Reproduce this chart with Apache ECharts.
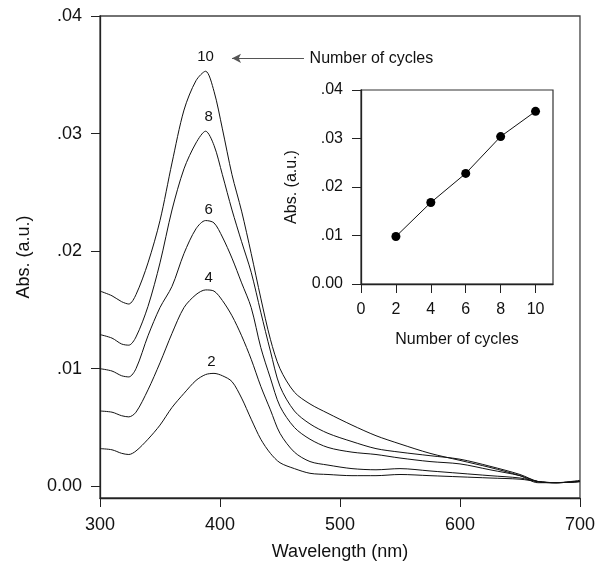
<!DOCTYPE html>
<html>
<head>
<meta charset="utf-8">
<script src="https://cdn.jsdelivr.net/npm/echarts@6/dist/echarts.min.js"></script>
<style>
  html, body { margin: 0; padding: 0; background: #fff; }
  #chart { width: 598px; height: 569px; }
</style>
</head>
<body>
<div id="chart"></div>
<script>
// spectra
const wavelength = [300, 310, 318, 324, 330, 340, 350, 360, 370, 380, 388, 395, 402, 410, 418, 426, 434, 442, 450, 462, 475, 490, 510, 530, 550, 575, 600, 625, 650, 665, 680, 700]
const abs2  = [0.0032, 0.0031, 0.0028, 0.0027, 0.0030, 0.0040, 0.0052, 0.0067, 0.0079, 0.0090, 0.0095, 0.0096, 0.0094, 0.0089, 0.0075, 0.0057, 0.0040, 0.0028, 0.0020, 0.0015, 0.0011, 0.0010, 0.0009, 0.0009, 0.0010, 0.0009, 0.0008, 0.0007, 0.0006, 0.0004, 0.0003, 0.0004]
const abs4  = [0.0064, 0.0063, 0.0060, 0.0059, 0.0063, 0.0082, 0.0105, 0.0130, 0.0152, 0.0163, 0.0167, 0.0166, 0.0158, 0.0145, 0.0128, 0.0108, 0.0085, 0.0065, 0.0045, 0.0029, 0.0021, 0.0018, 0.0015, 0.0014, 0.0015, 0.0013, 0.0011, 0.0009, 0.0007, 0.0004, 0.0003, 0.0004]
const abs6  = [0.0100, 0.0098, 0.0094, 0.0093, 0.0100, 0.0128, 0.0152, 0.0170, 0.0198, 0.0219, 0.0226, 0.0224, 0.0212, 0.0194, 0.0173, 0.0152, 0.0118, 0.0092, 0.0068, 0.0050, 0.0040, 0.0033, 0.0029, 0.0027, 0.0024, 0.0021, 0.0019, 0.0014, 0.0009, 0.0004, 0.0003, 0.0004]
const abs8  = [0.0129, 0.0126, 0.0121, 0.0120, 0.0127, 0.0153, 0.0190, 0.0235, 0.0270, 0.0292, 0.0302, 0.0290, 0.0265, 0.0235, 0.0208, 0.0182, 0.0148, 0.0115, 0.0085, 0.0064, 0.0053, 0.0045, 0.0038, 0.0032, 0.0029, 0.0026, 0.0023, 0.0017, 0.0010, 0.0004, 0.0003, 0.0004]
const abs10 = [0.0166, 0.0162, 0.0157, 0.0155, 0.0163, 0.0190, 0.0226, 0.0275, 0.0320, 0.0345, 0.0353, 0.0336, 0.0304, 0.0265, 0.0234, 0.0198, 0.0160, 0.0125, 0.0100, 0.0080, 0.0070, 0.0062, 0.0052, 0.0043, 0.0036, 0.0028, 0.0022, 0.0016, 0.0009, 0.0003, 0.0003, 0.0005]

// inset: absorbance at the peak vs number of cycles
const cycles = [2, 4, 6, 8, 10]
const peakAbs = [0.0098, 0.0168, 0.0228, 0.0304, 0.0356]

// curve labels
const curveNames = ['2', '4', '6', '8', '10']
const labelNm = [392.8, 390.5, 390.5, 390.5, 388]
const labelAbs = [0.0106, 0.0177, 0.0235, 0.0314, 0.0365]

const absTicks = [0, 0.01, 0.02, 0.03, 0.04]
const nmTicks = [300, 400, 500, 600, 700]
const cycleTicks = [0, 2, 4, 6, 8, 10]

const arrowFrom = [470, 0.0364]
const arrowTo = [410, 0.0364]
const arrowText = 'Number of cycles'

const FONT = 'Liberation Sans'
const absFmt = v => v === 0 ? '0.00' : '.' + String(Math.round(v * 100)).padStart(2, '0')

const tickStyle = { show: true, inside: false, length: 9, lineStyle: { color: '#222', width: 1 } }
const lineStyleAxis = { show: true, onZero: false, lineStyle: { color: '#222', width: 1.3 } }

function axis (extra, fontSize, nameSize, ticks, fmt) {
  return Object.assign({
    type: 'value',
    axisLine: lineStyleAxis,
    splitLine: { show: false },
    nameTextStyle: { fontFamily: FONT, fontSize: nameSize, color: '#111' },
    axisLabel: { margin: 18, fontFamily: FONT, fontSize: fontSize, color: '#111', customValues: ticks, formatter: fmt },
    axisTick: Object.assign({}, tickStyle, { customValues: ticks })
  }, extra)
}

const spectra = [abs2, abs4, abs6, abs8, abs10]
const series = spectra.map((arr, k) => ({
  type: 'line',
  xAxisIndex: 0,
  yAxisIndex: 0,
  data: wavelength.map((w, i) => [w, arr[i]]),
  showSymbol: false,
  smooth: 0.3,
  lineStyle: { color: '#111', width: 1 },
  markPoint: {
    symbol: 'circle',
    symbolSize: 0,
    label: { show: true, position: 'inside', color: '#111', fontFamily: FONT, fontSize: 15 },
    data: [{ coord: [labelNm[k], labelAbs[k]], value: curveNames[k] }]
  }
}))

// arrow + text on the top curve
series[4].markLine = {
  silent: true,
  symbol: ['none', 'arrow'],
  symbolSize: [7, 9],
  lineStyle: { color: '#555', width: 1, type: 'solid' },
  label: { show: false },
  data: [[{ coord: arrowFrom }, { coord: arrowTo }]]
}
series[4].markPoint.data.push({
  coord: [arrowFrom[0] + 3, arrowFrom[1]],
  value: arrowText,
  label: { position: 'right', distance: 2, fontSize: 16 }
})

series.push({
  type: 'line',
  xAxisIndex: 1,
  yAxisIndex: 1,
  data: cycles.map((c, i) => [c, peakAbs[i]]),
  symbol: 'circle',
  symbolSize: 9,
  itemStyle: { color: '#000' },
  lineStyle: { color: '#111', width: 1 }
})

const chart = echarts.init(document.getElementById('chart'), null, { renderer: 'canvas' })
chart.setOption({
  animation: false,
  backgroundColor: '#fff',
  textStyle: { fontFamily: FONT },
  grid: [
    { left: 100, top: 16, width: 482, height: 482, show: true, borderColor: '#444', borderWidth: 1.3, backgroundColor: 'transparent' },
    { left: 361, top: 90, width: 192, height: 194, show: true, borderColor: '#333', borderWidth: 1.2, backgroundColor: '#fff' }
  ],
  xAxis: [
    axis({ gridIndex: 0, min: 300, max: 700, name: 'Wavelength (nm)', nameLocation: 'middle', nameGap: 45 }, 18, 18, nmTicks),
    axis({ gridIndex: 1, min: 0, max: 11, name: 'Number of cycles', nameLocation: 'middle', nameGap: 48 }, 16, 16, cycleTicks)
  ],
  yAxis: [
    axis({ gridIndex: 0, min: -0.001, max: 0.04, name: 'Abs. (a.u.)', nameLocation: 'middle', nameGap: 67, nameRotate: 90 }, 18, 18, absTicks, absFmt),
    axis({ gridIndex: 1, min: 0, max: 0.04, name: 'Abs. (a.u.)', nameLocation: 'middle', nameGap: 61, nameRotate: 90 }, 16, 16, absTicks, absFmt)
  ],
  series: series
})
</script>
</body>
</html>
